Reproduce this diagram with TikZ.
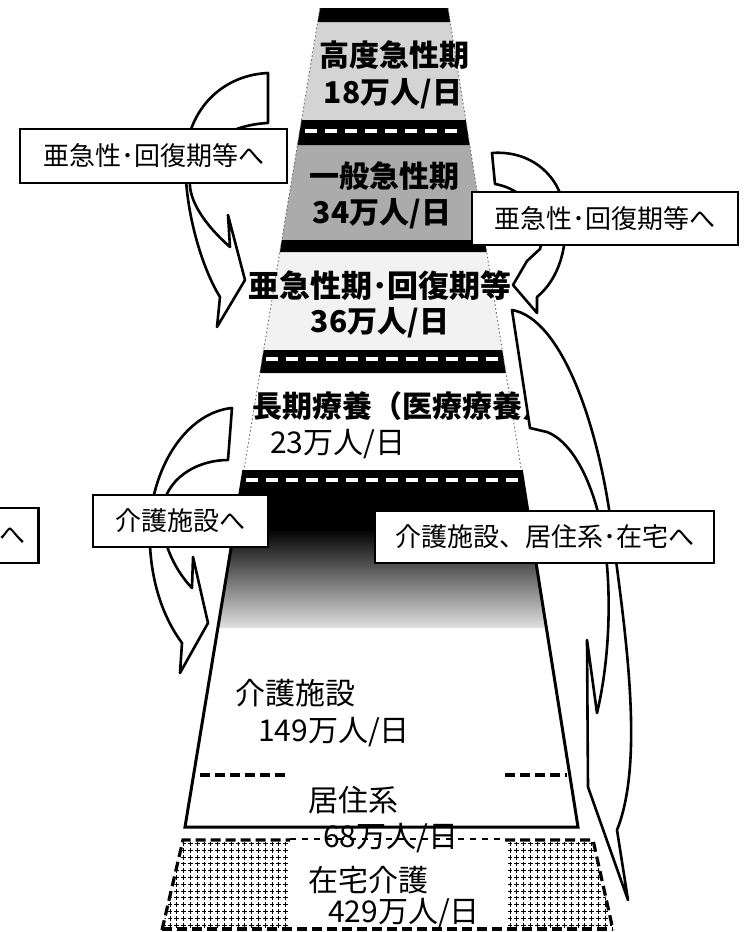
\documentclass[tikz,border=0pt]{standalone}
\usepackage{fontspec}
\setmainfont{Noto Sans CJK JP}
\usetikzlibrary{patterns.meta}
\tikzdeclarepattern{
  name=plusses,
  type=uncolored,
  bounding box={(-3.4pt,-3.4pt) and (3.4pt,3.4pt)},
  tile size={(6.8pt,6.8pt)},
  code={
    \draw[line width=1pt] (-2.4pt,0pt) -- (2.4pt,0pt) (0pt,-2.4pt) -- (0pt,2.4pt);
  }
}
\begin{document}
\begin{tikzpicture}[x=1pt,y=-1pt,
  tierbold/.style={inner sep=0pt, font=\bfseries\fontsize{30}{30}\selectfont},
  tiernorm/.style={inner sep=0pt, font=\fontsize{30}{30}\selectfont},
  callout/.style={draw, line width=2.8pt, fill=white, inner sep=0pt, font=\fontsize{26}{26}\selectfont},
  blockarrow/.style={draw, line width=2.6pt, fill=white, line join=round},
  whitedash/.style={white, line width=4pt, dash pattern=on 12pt off 8pt},
  thickdash/.style={line width=3.2pt, dash pattern=on 10pt off 5pt},
  thindash/.style={line width=1.4pt, dash pattern=on 6pt off 6pt},
  edgedot/.style={black!60, line width=0.9pt, dash pattern=on 1.5pt off 2.5pt}
]
\useasboundingbox (0,0) rectangle (747,932);
\fill[white] (0,0) rectangle (747,932);

% tier fills
\fill[black!17] (317.7,22) -- (450.2,22) -- (465.8,120) -- (301.5,120) -- cycle;
\fill[black!33] (297.4,145) -- (469.7,145) -- (484.8,240) -- (281.8,240) -- cycle;
\fill[black!5] (279.8,252) -- (486.7,252) -- (502.3,350) -- (263.6,350) -- cycle;

% black bands
\fill[black] (320,8) -- (448,8) -- (450.2,22) -- (317.7,22) -- cycle;
\fill[black] (301.5,120) -- (465.8,120) -- (469.7,145) -- (297.4,145) -- cycle;
\draw[whitedash] (305,131) -- (463,131);
\fill[black] (281.8,240) -- (484.8,240) -- (486.7,252) -- (279.8,252) -- cycle;
\fill[black] (263.6,350) -- (502.3,350) -- (505.9,373) -- (259.8,373) -- cycle;
\draw[whitedash] (266,359) -- (500,359);
\fill[black] (243.9,470) -- (521.3,470) -- (530.9,530) -- (234.0,530) -- cycle;
\shade[top color=black, middle color=black!55, bottom color=black!12]
  (234.0,529) -- (530.9,529) -- (546.4,628) -- (217.8,628) -- cycle;
\draw[whitedash] (246,480) -- (519,480);

% thin dotted edges of upper tiers
\draw[edgedot] (320,8) -- (243.9,470);
\draw[edgedot] (448,8) -- (521.3,470);

% lower trapezoid outline
\draw[line width=3pt, line join=miter] (243.9,470) -- (185,827) -- (578,827) -- (521.3,470);
\draw[thickdash] (200,775) -- (286,775);
\draw[thickdash] (505,775) -- (567,775);

% tier labels
\node[tierbold] (t1a) at (394,55) {高度急性期};
\node[tierbold] (t1b) at (393,94) {18万人/日};
\node[tierbold] (t2a) at (384,176) {一般急性期};
\node[tierbold] (t2b) at (382,214) {34万人/日};
\node[tierbold, font=\bfseries\fontsize{31}{31}\selectfont] (t3a) at (380,286) {亜急性期･回復期等};
\node[tierbold] (t3b) at (380,323) {36万人/日};
\node[tierbold, anchor=west] (t4a) at (252,406) {長期療養（医療療養）};
\node[tiernorm, anchor=west] (t4b) at (270,444) {23万人/日};
\node[tiernorm, anchor=west] (t5a) at (235,693) {介護施設};
\node[tiernorm, anchor=west] (t5b) at (258,732) {149万人/日};
\node[tiernorm, anchor=west] (t6a) at (308,800) {居住系};
\node[tiernorm, anchor=west] (t6b) at (323,838) {68万人/日};
\node[tiernorm, anchor=west] (t7a) at (308,880) {在宅介護};
\node[tiernorm, anchor=west] (t7b) at (328,913) {429万人/日};

% home care tier
\fill[pattern=plusses, pattern color=black] (183,842) -- (288,842) -- (288,930) -- (162,930) -- cycle;
\fill[pattern=plusses, pattern color=black] (507,842) -- (593,842) -- (613,930) -- (507,930) -- cycle;
\draw[thickdash] (162,930) -- (183,840) -- (290,840);
\draw[thickdash] (505,840) -- (593,840) -- (613,930);
\draw[thickdash] (162,929) -- (613,929);
\draw[thindash] (290,839) -- (505,839);

% curved block arrows
\path[blockarrow] (268,73) .. controls (225,75) and (192,105) .. (186,150)
  .. controls (182,200) and (200,265) .. (220,297) -- (217,327) -- (245,280)
  -- (228,215) -- (230,247) .. controls (205,225) and (188,200) .. (190,180)
  .. controls (193,150) and (225,125) .. (268,123) -- cycle;
\path[blockarrow] (492,153) .. controls (530,150) and (562,175) .. (565,215)
  .. controls (568,255) and (555,282) .. (537,297) -- (537,313) -- (513,285)
  -- (527,261) -- (540,249) .. controls (548,225) and (530,190) .. (495,184) -- cycle;
\path[blockarrow] (232,408) .. controls (190,412) and (155,460) .. (150,520)
  .. controls (147,580) and (165,620) .. (182,643) -- (180,673) -- (208,623)
  -- (193,557) -- (192,588) .. controls (170,565) and (158,530) .. (163,505)
  .. controls (170,475) and (200,460) .. (228,460) -- cycle;
\path[blockarrow] (512,310) .. controls (560,318) and (598,420) .. (612,530)
  .. controls (625,630) and (645,760) .. (617,830) -- (628,900) -- (588,787)
  -- (587,640) -- (597,713) .. controls (612,650) and (612,570) .. (600,520)
  .. controls (588,470) and (568,440) .. (547,432) -- (530,428) -- cycle;

% callout boxes
\node[callout, minimum width=267pt, minimum height=54pt] (boxA) at (153.5,156) {亜急性･回復期等へ};
\node[callout, minimum width=266pt, minimum height=53pt] (boxB) at (605,218.5) {亜急性･回復期等へ};
\node[callout, minimum width=175pt, minimum height=52pt] (boxC) at (180.5,521) {介護施設へ};
\node[callout, minimum width=339pt, minimum height=52pt] (boxE) at (544.5,537) {介護施設、居住系･在宅へ};
\node[callout, minimum width=52pt, minimum height=55pt, anchor=east] (boxD) at (40,535.5) {へ};
\end{tikzpicture}
\end{document}
